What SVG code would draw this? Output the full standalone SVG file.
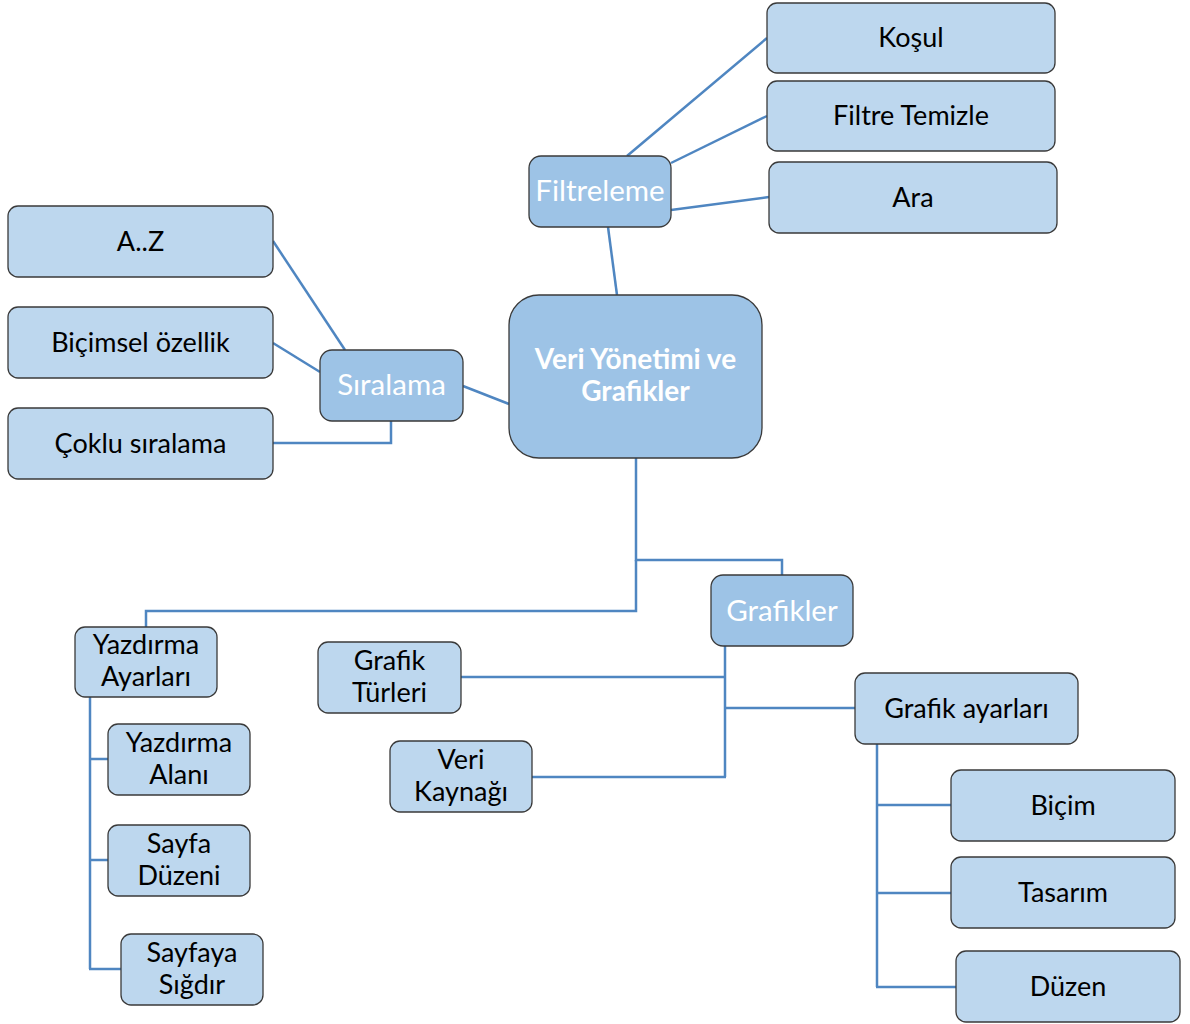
<svg xmlns="http://www.w3.org/2000/svg" width="1190" height="1024" viewBox="0 0 1190 1024">
<style>
.leaf{fill:#bdd7ee;stroke:#3a3a3a;stroke-width:1.3}
.mid{fill:#9dc3e6;stroke:#3a3a3a;stroke-width:1.3}
.t{font-family:Lato,"Liberation Sans",sans-serif;font-size:27px;fill:#000;text-anchor:middle}
.tw{font-family:Lato,"Liberation Sans",sans-serif;font-size:29.5px;fill:#fff;text-anchor:middle}
.tb{font-family:Lato,"Liberation Sans",sans-serif;font-size:28px;font-weight:bold;fill:#fff;text-anchor:middle}
.c{fill:none;stroke:#4f86c1;stroke-width:2.5}
</style>
<rect width="1190" height="1024" fill="#fff"/>
<g id="connectors">
<line class="c" x1="627" y1="156" x2="767" y2="38"/>
<line class="c" x1="671" y1="163" x2="767" y2="116"/>
<line class="c" x1="671" y1="210" x2="769" y2="197"/>
<line class="c" x1="608" y1="227" x2="617" y2="295"/>
<line class="c" x1="273" y1="241" x2="345" y2="350"/>
<line class="c" x1="273" y1="343" x2="320" y2="372"/>
<polyline class="c" points="273,443 391,443 391,421"/>
<line class="c" x1="463" y1="386" x2="509" y2="404"/>
<polyline class="c" points="636,458 636,560 782,560 782,575"/>
<polyline class="c" points="636,560 636,611 146,611 146,627"/>
<line class="c" x1="725" y1="646" x2="725" y2="777"/>
<line class="c" x1="461" y1="677" x2="725" y2="677"/>
<line class="c" x1="725" y1="708" x2="855" y2="708"/>
<line class="c" x1="532" y1="777" x2="726" y2="777"/>
<line class="c" x1="877" y1="744" x2="877" y2="987"/>
<line class="c" x1="877" y1="805" x2="951" y2="805"/>
<line class="c" x1="877" y1="893" x2="951" y2="893"/>
<line class="c" x1="876" y1="987" x2="956" y2="987"/>
<line class="c" x1="90" y1="697" x2="90" y2="969"/>
<line class="c" x1="90" y1="759" x2="108" y2="759"/>
<line class="c" x1="90" y1="860" x2="108" y2="860"/>
<line class="c" x1="89" y1="969" x2="121" y2="969"/>
</g>
<g id="center"><rect class="mid" x="509" y="295" width="253" height="163" rx="30"/><text class="tb" x="635.5" y="369">Veri Yönetimi ve</text><text class="tb" x="635.5" y="401">Grafikler</text></g>
<g id="filtreleme"><rect class="mid" x="529" y="156" width="142" height="71" rx="12"/><text class="tw" x="600" y="201">Filtreleme</text></g>
<g id="kosul"><rect class="leaf" x="767" y="3" width="288" height="70" rx="10"/><text class="t" x="911" y="47">Koşul</text></g>
<g id="filtre-temizle"><rect class="leaf" x="767" y="81" width="288" height="70" rx="10"/><text class="t" x="911" y="125">Filtre Temizle</text></g>
<g id="ara"><rect class="leaf" x="769" y="162" width="288" height="71" rx="10"/><text class="t" x="913" y="207">Ara</text></g>
<g id="siralama"><rect class="mid" x="320" y="350" width="143" height="71" rx="12"/><text class="tw" x="391.5" y="395">Sıralama</text></g>
<g id="az"><rect class="leaf" x="8" y="206" width="265" height="71" rx="10"/><text class="t" x="140.5" y="251">A..Z</text></g>
<g id="bicimsel"><rect class="leaf" x="8" y="307" width="265" height="71" rx="10"/><text class="t" x="140.5" y="352">Biçimsel özellik</text></g>
<g id="coklu"><rect class="leaf" x="8" y="408" width="265" height="71" rx="10"/><text class="t" x="140.5" y="453">Çoklu sıralama</text></g>
<g id="grafikler"><rect class="mid" x="711" y="575" width="142" height="71" rx="12"/><text class="tw" x="782" y="621">Grafikler</text></g>
<g id="grafik-ayarlari"><rect class="leaf" x="855" y="673" width="223" height="71" rx="10"/><text class="t" x="966.5" y="718">Grafik ayarları</text></g>
<g id="grafik-turleri"><rect class="leaf" x="318" y="642" width="143" height="71" rx="10"/><text class="t" x="389.5" y="670">Grafik</text><text class="t" x="389.5" y="702">Türleri</text></g>
<g id="veri-kaynagi"><rect class="leaf" x="390" y="741" width="142" height="71" rx="10"/><text class="t" x="461" y="769">Veri</text><text class="t" x="461" y="801">Kaynağı</text></g>
<g id="bicim"><rect class="leaf" x="951" y="770" width="224" height="71" rx="10"/><text class="t" x="1063" y="815">Biçim</text></g>
<g id="tasarim"><rect class="leaf" x="951" y="857" width="224" height="71" rx="10"/><text class="t" x="1063" y="902">Tasarım</text></g>
<g id="duzen"><rect class="leaf" x="956" y="951" width="224" height="71" rx="10"/><text class="t" x="1068" y="996">Düzen</text></g>
<g id="yazdirma-ayarlari"><rect class="leaf" x="75" y="627" width="142" height="70" rx="10"/><text class="t" x="146" y="654">Yazdırma</text><text class="t" x="146" y="686">Ayarları</text></g>
<g id="yazdirma-alani"><rect class="leaf" x="108" y="724" width="142" height="71" rx="10"/><text class="t" x="179" y="752">Yazdırma</text><text class="t" x="179" y="784">Alanı</text></g>
<g id="sayfa-duzeni"><rect class="leaf" x="108" y="825" width="142" height="71" rx="10"/><text class="t" x="179" y="853">Sayfa</text><text class="t" x="179" y="885">Düzeni</text></g>
<g id="sayfaya-sigdir"><rect class="leaf" x="121" y="934" width="142" height="71" rx="10"/><text class="t" x="192" y="962">Sayfaya</text><text class="t" x="192" y="994">Sığdır</text></g>
</svg>
